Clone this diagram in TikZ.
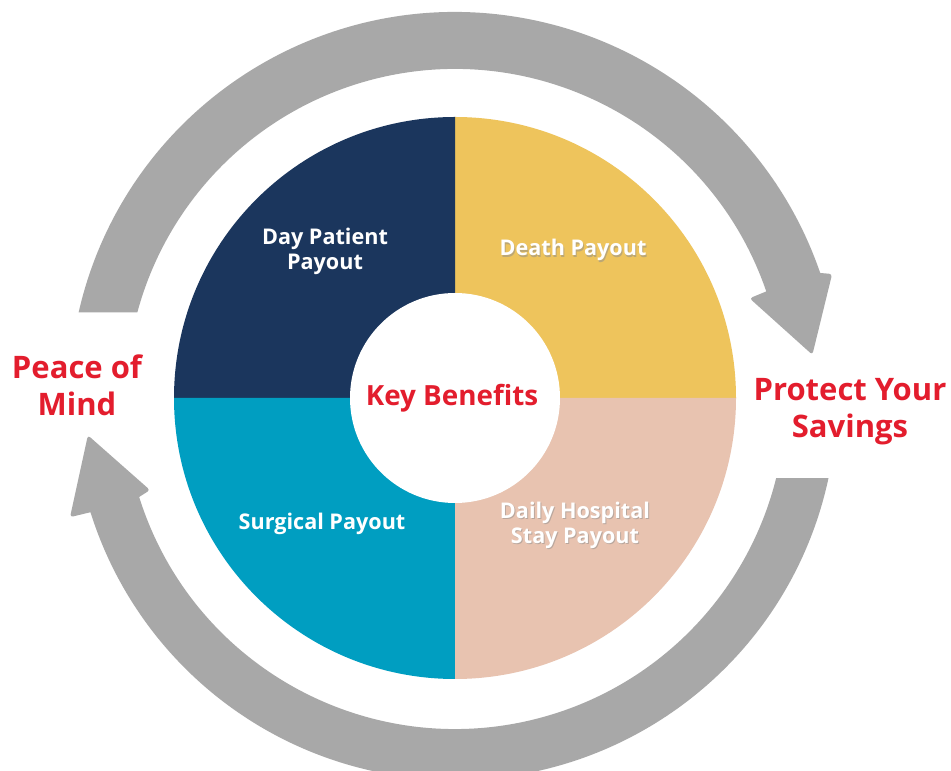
\documentclass[tikz,border=0pt]{standalone}
\usepackage{fontspec}
\setmainfont{Open Sans}
\definecolor{navy}{HTML}{1B365D}
\definecolor{gold}{HTML}{EEC45C}
\definecolor{tealblue}{HTML}{009EC1}
\definecolor{peach}{HTML}{E8C3B0}
\definecolor{arrowgray}{HTML}{A8A8A8}
\definecolor{brandred}{HTML}{E31D2D}
\tikzset{
  quad/.style={white,font=\bfseries\fontsize{21.6}{25}\selectfont,align=center},
  shadowtxt/.style={black!45,opacity=0.5,font=\bfseries\fontsize{21.6}{25}\selectfont,align=center},
  side/.style={brandred,font=\bfseries\fontsize{31}{37}\selectfont,align=center},
  keytxt/.style={brandred,font=\bfseries\fontsize{27.8}{32}\selectfont}
}
\begin{document}
\begin{tikzpicture}[x=1pt,y=1pt]
\useasboundingbox (0,0) rectangle (951,771);
\fill[white] (0,0) rectangle (951,771);
\begin{scope}[shift={(455,373)}]
  % top arrow (clockwise)
  \fill[arrowgray] (167.2:386pt) arc[start angle=167.2,end angle=18.9,radius=386pt]
     [rounded corners=3pt] -- (18.2:397pt) -- (6.9:360pt) -- (18.7:311pt) [sharp corners] -- (18.9:329pt)
     arc[start angle=18.9,end angle=164.9,radius=329pt] -- cycle;
  % bottom arrow (clockwise)
  \fill[arrowgray] (-12.1:382pt) arc[start angle=-12.1,end angle=-162.6,radius=382pt]
     [rounded corners=3pt] -- (-162.8:403pt) -- (-174.2:369pt) -- (-163.2:318.6pt) [sharp corners] -- (-162.6:331pt)
     arc[start angle=-162.6,end angle=-14,radius=331pt] -- cycle;
  % pie
  \fill[gold] (0,0) -- (0:281pt) arc[start angle=0,end angle=90,radius=281pt] -- cycle;
  \fill[navy] (0,0) -- (90:281pt) arc[start angle=90,end angle=180,radius=281pt] -- cycle;
  \fill[tealblue] (0,0) -- (180:281pt) arc[start angle=180,end angle=270,radius=281pt] -- cycle;
  \fill[peach] (0,0) -- (270:281pt) arc[start angle=270,end angle=360,radius=281pt] -- cycle;
  \fill[white] (0,0) circle[radius=105pt];
\end{scope}
\node[quad] (day) at (325,520) {Day Patient\\Payout};
\node[shadowtxt] (deaths) at (574,519.5) {Death Payout};
\node[quad] (death) at (573,521) {Death Payout};
\node[quad] (surg) at (322,247) {Surgical Payout};
\node[shadowtxt] (dailys) at (576,244.5) {Daily Hospital\\Stay Payout};
\node[quad] (daily) at (575,246) {Daily Hospital\\Stay Payout};
\node[keytxt] (key) at (452,373) {Key Benefits};
\node[side] (peace) at (77,386) {Peace of\\Mind};
\node[side] (protect) at (850,359) {Protect Your\\Savings};
\end{tikzpicture}
\end{document}
